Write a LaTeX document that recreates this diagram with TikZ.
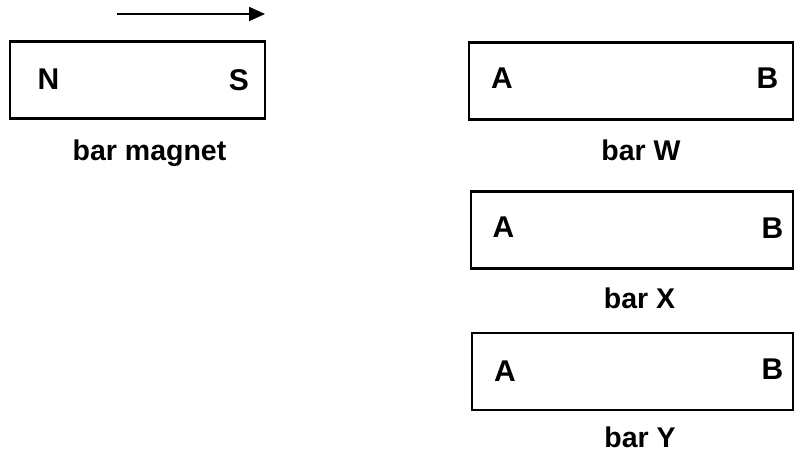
\documentclass[tikz,border=0pt]{standalone}
\usepackage{fontspec}
\setmainfont{Liberation Sans}
\usetikzlibrary{arrows.meta}
\begin{document}
\begin{tikzpicture}[x=1pt,y=-1pt,
  bar/.style={draw=black,line width=2.8pt,minimum width=#1,minimum height=77pt,inner sep=0pt},
  lbl/.style={font=\fontsize{28.5}{30}\selectfont\bfseries,inner sep=0pt,anchor=base},
  pole/.style={font=\fontsize{30}{32}\selectfont\bfseries,inner sep=0pt}]
\useasboundingbox (0,0) rectangle (801,455);
% bar magnet
\node[bar=255pt] (mag) at (137.5,80) {};
\node[pole] (N) at (48.5,79) {N};
\node[pole] (S) at (239,80) {S};
\node[lbl] (maglbl) at (149.5,160) {bar magnet};
\coordinate (a1) at (117,14);
\coordinate (a2) at (265,14);
\draw[line width=2pt,-{Triangle[length=16pt,width=14pt]}] (a1) -- (a2);
% bar W
\node[bar=324pt] (W) at (631,81) {};
\node[pole] (WA) at (502,78.5) {A};
\node[pole] (WB) at (767.5,78) {B};
\node[lbl] (Wl) at (641,160) {bar W};
% bar X
\node[bar=322pt] (X) at (632,230) {};
\node[pole] (XA) at (503.5,227.5) {A};
\node[pole] (XB) at (772.5,228) {B};
\node[lbl] (Xl) at (639.5,308) {bar X};
% bar Y
\node[bar=321pt] (Y) at (632.5,371.5) {};
\node[pole] (YA) at (505,371) {A};
\node[pole] (YB) at (772.5,369) {B};
\node[lbl] (Yl) at (640,447) {bar Y};
\end{tikzpicture}
\end{document}
